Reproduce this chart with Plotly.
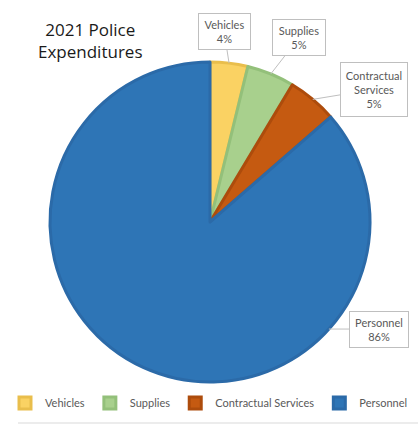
import math
import plotly.graph_objects as go

W, H = 418, 425

# Data
categories = ["Vehicles", "Supplies", "Contractual Services", "Personnel"]
values = [3.8, 4.8, 5.0, 86.4]
pct_labels = ["4%", "5%", "5%", "86%"]
callout_names = ["Vehicles", "Supplies", "Contractual<br>Services", "Personnel"]

fill_colors = ["#FAD263", "#A8D08D", "#C55A11", "#2E75B6"]
edge_colors = ["#E9BE4C", "#93C07A", "#AD4C0C", "#2B6AA8"]

# Pie geometry (pixels)
cx, cy, r = 210, 222, 160

fig = go.Figure(go.Pie(
    labels=categories,
    values=values,
    sort=False,
    direction="clockwise",
    rotation=0,
    textinfo="none",
    hoverinfo="label+percent",
    marker=dict(colors=fill_colors, line=dict(color=edge_colors, width=3)),
    domain=dict(x=[(cx - r) / W, (cx + r) / W], y=[1 - (cy + r) / H, 1 - (cy - r) / H]),
))

# Callouts: tip computed from slice angles
total = sum(values)
cum = 0
mids = []
for v in values:
    mids.append((cum + v / 2) / total * 360)
    cum += v
# Personnel label is placed on the right side of its slice
mids[3] = 132

offsets = [(-5, -32), (28, -36), (61, -10), (50, 0)]
sizes = [(49, 33), (50, 33), (64, 51), (56, 33)]
for i in range(4):
    a = math.radians(mids[i])
    px = cx + r * math.sin(a)
    py = cy - r * math.cos(a)
    fig.add_annotation(
        x=px / W, y=1 - py / H, xref="paper", yref="paper",
        text=f"{callout_names[i]}<br>{pct_labels[i]}",
        showarrow=True, arrowhead=0, arrowwidth=1, arrowcolor="#BFBFBF",
        ax=offsets[i][0], ay=offsets[i][1],
        bordercolor="#BFBFBF", borderwidth=1, borderpad=1, bgcolor="white",
        width=sizes[i][0], height=sizes[i][1],
        font=dict(family="Lato", size=11, color="#595959"),
        align="center",
    )

fig.add_annotation(
    x=90 / W, y=1 - 41 / H, xref="paper", yref="paper",
    text="2021 Police<br>Expenditures", showarrow=False,
    font=dict(family="Open Sans", size=17, color="#1a1a1a"),
    align="center", xanchor="center", yanchor="middle",
)

fig.add_shape(type="line", xref="paper", yref="paper",
              x0=18 / W, x1=1, y0=1 - 423 / H, y1=1 - 423 / H,
              line=dict(color="#D9D9D9", width=1))

fig.update_layout(
    width=W, height=H,
    margin=dict(l=0, r=0, t=0, b=0),
    paper_bgcolor="white", plot_bgcolor="white",
    showlegend=True,
    legend=dict(orientation="h", x=0.5, xanchor="center", y=1 - 403 / H, yanchor="middle",
                font=dict(family="Lato", size=11, color="#595959"),
                itemwidth=30, traceorder="normal"),
)

fig.write_html("out.html")
